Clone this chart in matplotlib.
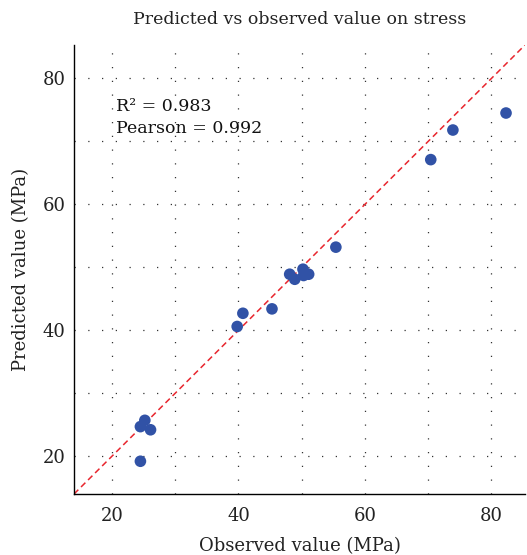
import numpy as np
import matplotlib
matplotlib.use("Agg")
import matplotlib.pyplot as plt
from matplotlib.ticker import MultipleLocator

# observed vs predicted stress values (MPa)
observed = [24.5, 24.5, 25.2, 26.1, 39.8, 40.7, 45.3, 48.1, 48.9, 50.2,
            50.3, 51.1, 55.4, 70.4, 73.9, 82.3]
predicted = [19.2, 24.7, 25.7, 24.2, 40.6, 42.7, 43.4, 48.9, 48.1, 49.7,
             48.7, 48.9, 53.2, 67.1, 71.8, 74.5]
lims = [14.0, 85.3]
major_ticks = [20, 40, 60, 80]
r2_text = "R² = 0.983"
pearson_text = "Pearson = 0.992"

plt.rcParams['font.family'] = ['DejaVu Serif']

fig = plt.figure(figsize=(5.27, 5.55), dpi=100)
ax = fig.add_axes([0.1404, 0.1099, 0.8558, 0.809])

ax.plot(lims, lims, color='#e8262e', linestyle=(0, (4, 2.5)), linewidth=1.1, zorder=2)
ax.scatter(observed, predicted, s=70, color='#3152a6', edgecolors='none', zorder=3)

ax.set_xlim(lims)
ax.set_ylim(lims)
ax.xaxis.set_major_locator(plt.FixedLocator(major_ticks))
ax.yaxis.set_major_locator(plt.FixedLocator(major_ticks))
ax.xaxis.set_minor_locator(MultipleLocator(10))
ax.yaxis.set_minor_locator(MultipleLocator(10))
ax.grid(True, which='both', color='#333333', linewidth=0.9,
        linestyle=(0, (1, 10)))
ax.set_axisbelow(True)

for side in ['top', 'right']:
    ax.spines[side].set_visible(False)
for side in ['left', 'bottom']:
    ax.spines[side].set_linewidth(1.0)

ax.tick_params(which='both', length=0)
ax.tick_params(axis='x', labelsize=13, pad=9, colors='#222222')
ax.tick_params(axis='y', labelsize=13, pad=6, colors='#222222')

ax.text(0.093, 0.8537, r2_text, transform=ax.transAxes, fontsize=12.5,
        va='baseline', ha='left', color='#111111')
ax.text(0.093, 0.804, pearson_text, transform=ax.transAxes, fontsize=12.5,
        va='baseline', ha='left', color='#111111')

ax.set_title("Predicted vs observed value on stress", fontsize=12.5,
             pad=15, color='#222222')
ax.set_xlabel("Observed value (MPa)", fontsize=13, labelpad=9, color='#222222')
ax.set_ylabel("Predicted value (MPa)", fontsize=13, labelpad=9, color='#222222')

fig.savefig("out.png", dpi=100)
